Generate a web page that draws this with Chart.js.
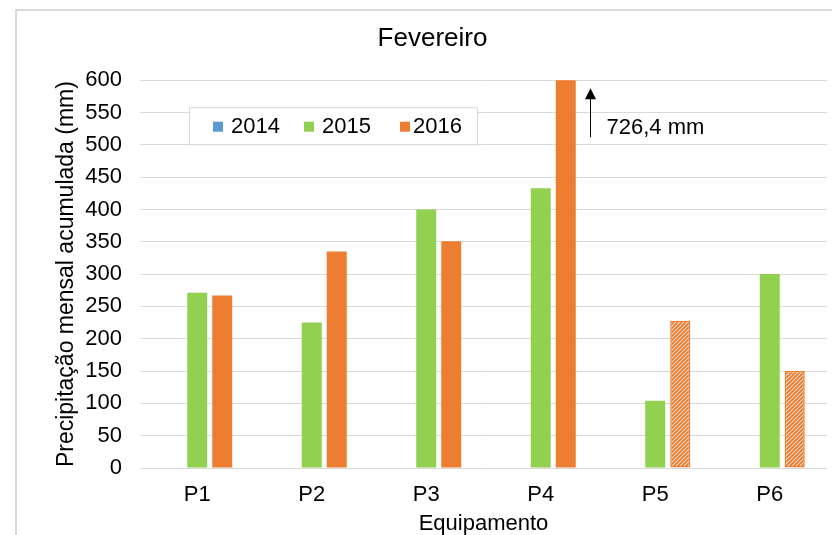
<!DOCTYPE html>
<html><head><meta charset="utf-8">
<script src="https://cdn.jsdelivr.net/npm/chart.js@4"></script>
<style>html,body{margin:0;padding:0;background:#fff}</style>
</head><body>
<canvas id="c" width="832" height="535" style="width:832px;height:535px;display:block"></canvas>
<script>
const categories = ['P1', 'P2', 'P3', 'P4', 'P5', 'P6'];
const anos = ['2014', '2015', '2016'];
const v2014 = [null, null, null, null, null, null];
const v2015 = [271, 225, 400, 433, 104, 300];
const v2016 = [267, 335, 351, 726.4, 228, 150];
const estimado2016 = [false, false, false, false, true, true];
const tituloGrafico = 'Fevereiro';
const tituloY = 'Precipitação mensal acumulada (mm)';
const tituloX = 'Equipamento';
const notaP4 = '726,4 mm';

const AZUL = '#5B9BD5', VERDE = '#92D050', LARANJA = '#ED7D31';
const FONT = '"Liberation Sans", Arial, sans-serif';

const canvas = document.getElementById('c');
const ctx = canvas.getContext('2d');

function hatch(color) {
  const c = document.createElement('canvas');
  c.width = 4; c.height = 4;
  const x = c.getContext('2d');
  x.fillStyle = '#fff'; x.fillRect(0, 0, 4, 4);
  x.strokeStyle = color; x.lineWidth = 2.1;
  x.beginPath();
  x.moveTo(-1, 5); x.lineTo(5, -1);
  x.moveTo(-3, 3); x.lineTo(3, -3);
  x.moveTo(1, 7); x.lineTo(7, 1);
  x.stroke();
  return ctx.createPattern(c, 'repeat');
}
const hatchLaranja = hatch(LARANJA);

const framePlugin = {
  id: 'frame',
  beforeDraw(chart) {
    const c = chart.ctx;
    c.save();
    c.fillStyle = '#fff';
    c.fillRect(0, 0, chart.width, chart.height);
    c.strokeStyle = '#d9d9d9';
    c.lineWidth = 2;
    c.beginPath();
    c.moveTo(16, chart.height);
    c.lineTo(16, 10);
    c.lineTo(chart.width, 10);
    c.stroke();
    c.restore();
  }
};

const legendPlugin = {
  id: 'innerLegend',
  afterDatasetsDraw(chart) {
    const c = chart.ctx;
    const ca = chart.chartArea;
    const bx = ca.left + 49, by = ca.top + 27, bw = 288, bh = 37;
    c.save();
    c.fillStyle = '#fff';
    c.fillRect(bx, by, bw, bh);
    c.strokeStyle = '#d9d9d9';
    c.lineWidth = 1;
    c.strokeRect(bx + 0.5, by + 0.5, bw, bh);
    const cols = [AZUL, VERDE, LARANJA];
    const sq = [bx + 24, bx + 115, bx + 211];
    const tx = [bx + 42, bx + 133, bx + 224];
    c.font = '22px ' + FONT;
    c.textBaseline = 'middle';
    const cy = by + bh / 2 + 1;
    chart.data.datasets.forEach((ds, i) => {
      c.fillStyle = cols[i];
      c.fillRect(sq[i], cy - 5, 10, 10);
      c.fillStyle = '#000';
      c.fillText(ds.label, tx[i], cy);
    });
    // annotation arrow for P4 2016
    const bar = chart.getDatasetMeta(2).data[3];
    const ax = Math.round(bar.x + bar.width / 2 + 14) + 0.5;
    c.strokeStyle = '#000';
    c.lineWidth = 1;
    c.beginPath();
    c.moveTo(ax, ca.top + 57);
    c.lineTo(ax, ca.top + 15);
    c.stroke();
    c.fillStyle = '#000';
    c.beginPath();
    c.moveTo(ax, ca.top + 8);
    c.lineTo(ax - 5.5, ca.top + 19);
    c.lineTo(ax + 5.5, ca.top + 19);
    c.closePath();
    c.fill();
    c.font = '22px ' + FONT;
    c.textBaseline = 'middle';
    c.fillText(notaP4, ax + 16, ca.top + 48);
    c.restore();
  }
};

new Chart(canvas, {
  type: 'bar',
  data: {
    labels: categories,
    datasets: [
      { label: anos[0], data: v2014, backgroundColor: AZUL, borderWidth: 0 },
      { label: anos[1], data: v2015, backgroundColor: VERDE, borderWidth: 0 },
      { label: anos[2], data: v2016,
        backgroundColor: estimado2016.map(e => e ? hatchLaranja : LARANJA),
        borderColor: LARANJA,
        borderWidth: estimado2016.map(e => e ? 1.5 : 0),
        borderSkipped: false }
    ]
  },
  options: {
    responsive: false,
    animation: false,
    devicePixelRatio: 1,
    datasets: { bar: { clip: 0, categoryPercentage: 0.655, barPercentage: 0.8 } },
    layout: { padding: { left: 38, right: 5, top: 0, bottom: 0 } },
    plugins: {
      legend: { display: false },
      tooltip: { enabled: false },
      title: {
        display: true, text: tituloGrafico, color: '#000',
        font: { family: FONT, size: 26, weight: 'normal' },
        padding: { top: 23, bottom: 26 }
      }
    },
    scales: {
      x: {
        grid: { display: false },
        border: { display: false },
        ticks: { color: '#000', font: { family: FONT, size: 22 }, padding: 6 },
        title: { display: true, text: tituloX, color: '#000',
                 font: { family: FONT, size: 22 }, padding: { top: 0, bottom: -2 } },
        afterFit(s) { s.height = 67; }
      },
      y: {
        min: 0, max: 600,
        grid: { color: '#d9d9d9', lineWidth: 1, drawTicks: false },
        border: { display: false },
        ticks: { stepSize: 50, autoSkip: false, color: '#000', font: { family: FONT, size: 22 }, padding: 18 },
        title: { display: true, text: tituloY, color: '#000',
                 font: { family: FONT, size: 23 }, padding: { top: 15, bottom: 0 } },
        afterFit(s) { s.width = 102; }
      }
    }
  },
  plugins: [framePlugin, legendPlugin]
});
</script>
</body></html>
